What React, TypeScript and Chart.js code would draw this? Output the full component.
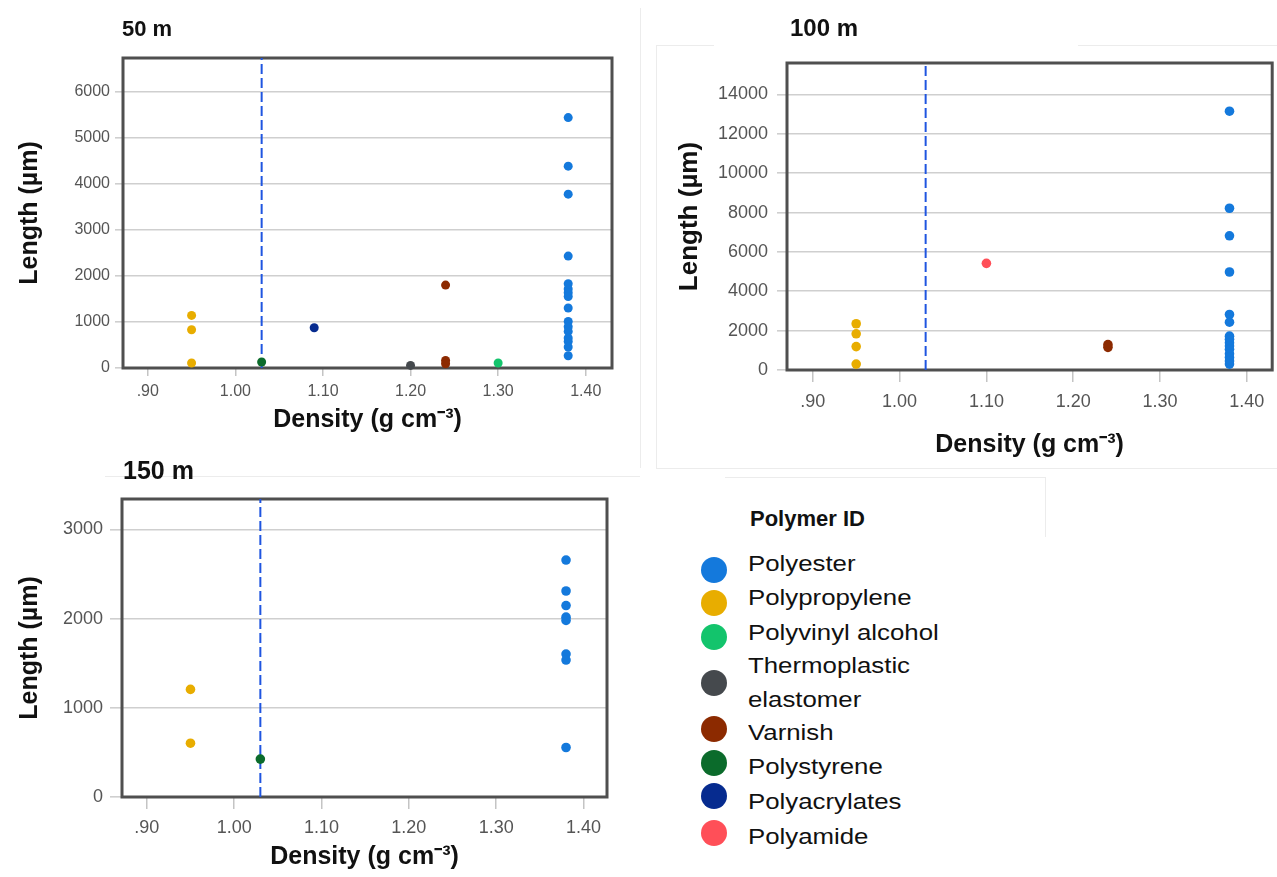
import React, { useEffect, useRef } from "react";
import { Chart, registerables } from "chart.js";
Chart.register(...registerables);

// ---------- shared data ----------
const polymerNames = [
  "Polyester",
  "Polypropylene",
  "Polyvinyl alcohol",
  "Thermoplastic elastomer",
  "Varnish",
  "Polystyrene",
  "Polyacrylates",
  "Polyamide",
];
const polymerLegendLines = [
  ["Polyester"],
  ["Polypropylene"],
  ["Polyvinyl alcohol"],
  ["Thermoplastic", "elastomer"],
  ["Varnish"],
  ["Polystyrene"],
  ["Polyacrylates"],
  ["Polyamide"],
];
const polymerColors = ["#1479dc", "#e8ad00", "#13c46c", "#45494d", "#8c2a00", "#0b6b2b", "#062b8f", "#ff4f58"];
const polymerDensity = [1.38, 0.95, 1.3, 1.2, 1.24, 1.03, 1.09, 1.1];
const xTicks = [0.9, 1.0, 1.1, 1.2, 1.3, 1.4];
const seawaterDensity = 1.03;

// ---------- 50 m ----------
const len50Polyester = [5436, 4382, 3774, 2430, 1829, 1714, 1633, 1553, 1302, 1011, 896, 794, 651, 577, 456, 267];
const len50Polypropylene = [1141, 831, 108];
const len50PolyvinylAlcohol = [108];
const len50Thermoplastic = [56];
const len50Varnish = [1800, 165, 93];
const len50Polystyrene = [130];
const len50Polyacrylates = [874];
const len50Polyamide: number[] = [];
const yTicks50 = [0, 1000, 2000, 3000, 4000, 5000, 6000];

// ---------- 100 m ----------
const len100Polyester = [13150, 8220, 6820, 4980, 2820, 2430, 1720, 1560, 1380, 1220, 1050, 820, 640, 460, 300];
const len100Polypropylene = [2350, 1840, 1190, 300];
const len100PolyvinylAlcohol: number[] = [];
const len100Thermoplastic: number[] = [];
const len100Varnish = [1290, 1150];
const len100Polystyrene: number[] = [];
const len100Polyacrylates: number[] = [];
const len100Polyamide = [5420];
const yTicks100 = [0, 2000, 4000, 6000, 8000, 10000, 12000, 14000];

// ---------- 150 m ----------
const len150Polyester = [2656, 2309, 2146, 2016, 1979, 1602, 1535, 555];
const len150Polypropylene = [1206, 603];
const len150PolyvinylAlcohol: number[] = [];
const len150Thermoplastic: number[] = [];
const len150Varnish: number[] = [];
const len150Polystyrene = [425];
const len150Polyacrylates: number[] = [];
const len150Polyamide: number[] = [];
const yTicks150 = [0, 1000, 2000, 3000];

const FONT = '"Liberation Sans", Arial, Helvetica, sans-serif';

const framePlugin = {
  id: "frame",
  beforeDatasetsDraw(chart: any) {
    const { ctx, chartArea: a } = chart;
    ctx.save();
    ctx.strokeStyle = "#4f4f4f";
    ctx.lineWidth = 3;
    ctx.strokeRect(a.left, a.top, a.right - a.left, a.bottom - a.top);
    ctx.restore();
  },
};

function fmtX(v: number) {
  const s = v.toFixed(2);
  return v < 1 ? s.slice(1) : s;
}

type PanelProps = {
  left: number; top: number; w: number; h: number;
  lengths: number[][]; yTicks: number[]; yMax: number; xMin: number; xMax: number;
  yAxisW: number; xAxisH: number; padTop: number; padRight: number;
  tickFont: number; yTickLen: number; yTickPad: number; xTickLen: number; xTickPad: number;
  yTitleSize: number; yTitlePad: number; xTitleSize: number; xTitlePad: number; radius: number;
};

function Panel(p: PanelProps) {
  const ref = useRef<HTMLCanvasElement>(null);
  useEffect(() => {
    const datasets: any[] = polymerNames.map((name, i) => ({
      type: "scatter",
      label: name,
      data: p.lengths[i].map((v) => ({ x: polymerDensity[i], y: v })),
      backgroundColor: polymerColors[i],
      borderColor: polymerColors[i],
      borderWidth: 0,
      pointRadius: p.radius,
      clip: false,
      order: 1,
    }));
    datasets.push({
      type: "scatter",
      label: "density line",
      data: [
        { x: seawaterDensity, y: 0 },
        { x: seawaterDensity, y: p.yMax },
      ],
      showLine: true,
      borderColor: "#1f55e0",
      borderWidth: 2,
      borderDash: [10, 4],
      pointRadius: 0,
      order: 10,
    });
    const chart = new Chart(ref.current as HTMLCanvasElement, {
      type: "scatter",
      data: { datasets },
      plugins: [framePlugin],
      options: {
        responsive: false,
        animation: false,
        layout: { padding: { top: p.padTop, right: p.padRight, left: 0, bottom: 0 } },
        plugins: { legend: { display: false }, tooltip: { enabled: false } },
        scales: {
          x: {
            type: "linear",
            min: p.xMin,
            max: p.xMax,
            afterFit: (axis: any) => { axis.height = p.xAxisH; },
            afterBuildTicks: (axis: any) => { axis.ticks = xTicks.map((v) => ({ value: v })); },
            border: { display: false },
            grid: { drawOnChartArea: false, drawTicks: true, tickLength: p.xTickLen, color: "#c4c4c4", lineWidth: 1.5 },
            ticks: {
              autoSkip: false, maxRotation: 0, padding: p.xTickPad, color: "#555555",
              font: { family: FONT, size: p.tickFont },
              callback: (v: any) => fmtX(Number(v)),
            },
            title: {
              display: true, text: "Density (g cm⁻³)", color: "#111111",
              font: { family: FONT, size: p.xTitleSize, weight: "bold" },
              padding: { top: 0, bottom: p.xTitlePad },
            },
          },
          y: {
            type: "linear",
            min: 0,
            max: p.yMax,
            afterFit: (axis: any) => { axis.width = p.yAxisW; },
            afterBuildTicks: (axis: any) => { axis.ticks = p.yTicks.map((v) => ({ value: v })); },
            border: { display: false },
            grid: { drawOnChartArea: true, drawTicks: true, tickLength: p.yTickLen, color: "#cfcfcf", lineWidth: 1.6 },
            ticks: {
              autoSkip: false, padding: p.yTickPad, color: "#555555",
              font: { family: FONT, size: p.tickFont },
              callback: (v: any) => String(v),
            },
            title: {
              display: true, text: "Length (µm)", color: "#111111",
              font: { family: FONT, size: p.yTitleSize, weight: "bold" },
              padding: { top: p.yTitlePad, bottom: 0 },
            },
          },
        },
      } as any,
    });
    return () => chart.destroy();
  }, []);
  return (
    <canvas
      ref={ref}
      width={p.w}
      height={p.h}
      style={{ position: "absolute", left: p.left, top: p.top, width: p.w, height: p.h }}
    />
  );
}

const titleStyle = (left: number, top: number, size: number): React.CSSProperties => ({
  position: "absolute", left, top, fontFamily: FONT, fontWeight: "bold", fontSize: size,
  color: "#111", lineHeight: 1, whiteSpace: "nowrap",
});

const faint = (left: number, top: number, w: number, h: number): React.CSSProperties => ({
  position: "absolute", left, top, width: w, height: h, background: "#ececec",
});

const legendCircleY = [570, 603, 637, 683, 729, 763, 796, 833];
const legendTextY = [564, 598, 633, 683, 733, 767, 802, 837];

export default function App() {
  return (
    <div style={{ position: "absolute", left: 0, top: 0, width: 1277, height: 877, background: "#fff", overflow: "hidden" }}>
      {/* faint panel outlines */}
      <div style={faint(640, 8, 1, 460)} />
      <div style={faint(656, 45, 1, 423)} />
      <div style={faint(656, 45, 58, 1)} />
      <div style={faint(1078, 45, 199, 1)} />
      <div style={faint(656, 468, 621, 1)} />
      <div style={faint(105, 476, 535, 1)} />
      <div style={faint(725, 477, 320, 1)} />
      <div style={faint(1045, 477, 1, 60)} />

      <Panel
        left={0} top={0} w={640} h={450}
        lengths={[len50Polyester, len50Polypropylene, len50PolyvinylAlcohol, len50Thermoplastic, len50Varnish, len50Polystyrene, len50Polyacrylates, len50Polyamide]}
        yTicks={yTicks50} yMax={6730} xMin={0.8717} xMax={1.43}
        yAxisW={123} xAxisH={82} padTop={58} padRight={28}
        tickFont={16} yTickLen={8} yTickPad={5} xTickLen={8} xTickPad={6}
        yTitleSize={25} yTitlePad={15} xTitleSize={25} xTitlePad={15} radius={4.5}
      />
      <Panel
        left={650} top={0} w={627} h={470}
        lengths={[len100Polyester, len100Polypropylene, len100PolyvinylAlcohol, len100Thermoplastic, len100Varnish, len100Polystyrene, len100Polyacrylates, len100Polyamide]}
        yTicks={yTicks100} yMax={15600} xMin={0.8703} xMax={1.4292}
        yAxisW={137} xAxisH={100} padTop={63} padRight={2}
        tickFont={18} yTickLen={10} yTickPad={9} xTickLen={12} xTickPad={9}
        yTitleSize={26} yTitlePad={24} xTitleSize={25} xTitlePad={10} radius={4.8}
      />
      <Panel
        left={0} top={450} w={640} h={427}
        lengths={[len150Polyester, len150Polypropylene, len150PolyvinylAlcohol, len150Thermoplastic, len150Varnish, len150Polystyrene, len150Polyacrylates, len150Polyamide]}
        yTicks={yTicks150} yMax={3340} xMin={0.8716} xMax={1.4269}
        yAxisW={122} xAxisH={80} padTop={49} padRight={33}
        tickFont={18} yTickLen={12} yTickPad={7} xTickLen={12} xTickPad={8}
        yTitleSize={25} yTitlePad={15} xTitleSize={25} xTitlePad={5} radius={4.8}
      />

      <div style={titleStyle(122, 18, 22)}>50 m</div>
      <div style={titleStyle(790, 16, 24)}>100 m</div>
      <div style={titleStyle(123, 458, 25)}>150 m</div>

      {/* legend */}
      <div style={titleStyle(750, 508, 22)}>Polymer ID</div>
      {polymerNames.map((name, i) => (
        <React.Fragment key={name}>
          <div
            style={{
              position: "absolute", left: 714 - 13, top: legendCircleY[i] - 13, width: 26, height: 26,
              borderRadius: "50%", background: polymerColors[i],
            }}
          />
          <div
            style={{
              position: "absolute", left: 748, top: legendTextY[i] - (polymerLegendLines[i].length === 2 ? 34 : 17),
              fontFamily: FONT, fontSize: 21.5, lineHeight: "34px", color: "#111", whiteSpace: "nowrap",
              transform: "scaleX(1.2)", transformOrigin: "left center",
            }}
          >
            {polymerLegendLines[i].map((t) => (
              <div key={t}>{t}</div>
            ))}
          </div>
        </React.Fragment>
      ))}
    </div>
  );
}
